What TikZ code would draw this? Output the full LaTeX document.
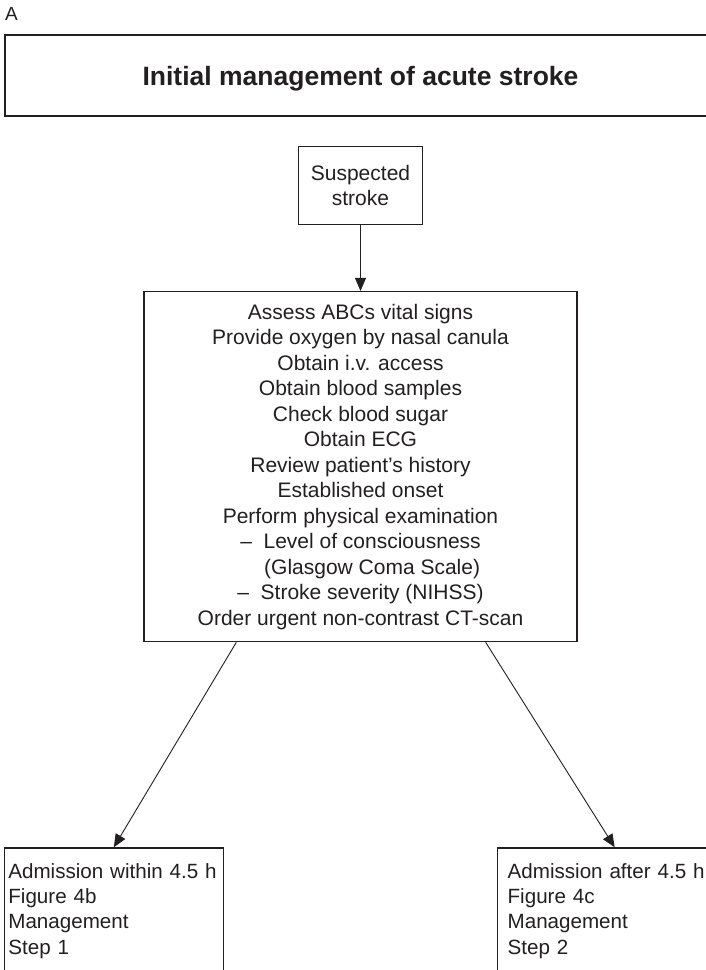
\documentclass[tikz,border=0pt]{standalone}
\usepackage{fontspec}
\setmainfont{Liberation Sans}
\usetikzlibrary{positioning,arrows.meta}
\definecolor{ink}{HTML}{231F20}
\tikzset{
  box/.style={draw=ink,line width=1.3pt,rectangle,inner sep=6pt,text=ink,font=\fontsize{21}{25.5}\selectfont},
  sidebox/.style={box,anchor=north,align=left,inner ysep=15.5pt,font=\fontsize{20.6}{25.3}\selectfont},
  arr/.style={draw=ink,line width=0.9pt,-{Triangle[length=13pt,width=11pt]}}
}

\begin{document}
\begin{tikzpicture}[x=1pt,y=-1pt]
  \useasboundingbox (0,0) rectangle (706,970);
  \clip (0,0) rectangle (706,970);
  \node[anchor=north west,inner sep=0pt,text=ink,font=\fontsize{19}{22}\selectfont] (0) at (5,7) {A};
  \node[box,minimum width=711pt,minimum height=81pt,text depth=0pt,font=\fontsize{26.5}{30}\selectfont\bfseries] (1) at (360.5,75.5) {Initial management of acute stroke};
  \node[box,below=29pt of 1,minimum width=124pt,minimum height=78pt,align=center] (2) {Suspected\\stroke};
  \node[box,below=66pt of 2,minimum width=433pt,minimum height=350pt,align=center] (3) {Assess ABCs vital signs\\
    Provide oxygen by nasal canula\\
    Obtain i.v. access\\
    Obtain blood samples\\
    Check blood sugar\\
    Obtain ECG\\
    Review patient’s history\\
    Established onset\\
    Perform physical examination\\
    –\ \ Level of consciousness\\
    \hphantom{–\ \ }(Glasgow Coma Scale)\\
    –\ \ Stroke severity (NIHSS)\\
    Order urgent non-contrast CT-scan};
  \node[sidebox,below=205pt of 3.south west,xshift=-29.5pt,text width=211pt,inner xsep=4pt] (4) {Admission within 4.5 h\\Figure 4b\\Management\\Step 1};
  \node[sidebox,below=205pt of 3.south east,xshift=37pt,text width=214pt,inner xsep=10pt] (5) {Admission after 4.5 h\\Figure 4c\\Management\\Step 2};

  \draw[arr] (2) -- (3);
  \draw[arr] ([xshift=93pt]3.south west) -- (4.north);
  \draw[arr] ([xshift=-92pt]3.south east) -- (5.north);
\end{tikzpicture}
\end{document}
